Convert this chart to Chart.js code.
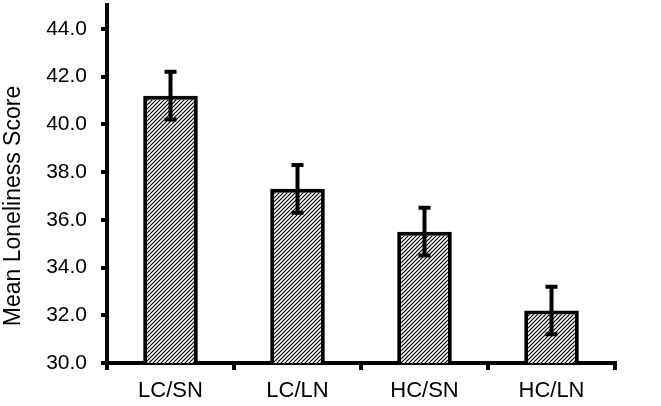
<!DOCTYPE html>
<html>
<head>
<meta charset="utf-8">
<script src="https://cdn.jsdelivr.net/npm/chart.js@4"></script>
<style>
  html, body { margin: 0; padding: 0; background: #fff; }
  #wrap { width: 661px; height: 406px; }
</style>
</head>
<body>
<div id="wrap"><canvas id="chart"></canvas></div>
<script>
// group labels, mean scores and +/- error
const groups = ["LC/SN", "LC/LN", "HC/SN", "HC/LN"];
const means = [41.2, 37.3, 35.5, 32.2];
const errors = [1.0, 1.0, 1.0, 1.0];
const yTicks = [30, 32, 34, 36, 38, 40, 42, 44];
const yTitle = "Mean Loneliness Score";

const family = "'Liberation Sans', Arial, sans-serif";

// diagonal hatch fill
function makeHatch() {
  const c = document.createElement("canvas");
  c.width = 4; c.height = 4;
  const g = c.getContext("2d");
  g.fillStyle = "#fff";
  g.fillRect(0, 0, 4, 4);
  g.strokeStyle = "#000";
  g.lineWidth = 1.2;
  g.beginPath();
  g.moveTo(0, 4); g.lineTo(4, 0);
  g.moveTo(-1, 1); g.lineTo(1, -1);
  g.moveTo(3, 5); g.lineTo(5, 3);
  g.stroke();
  return g.createPattern(c, "repeat");
}

// error bars drawn through the y scale
const errorBars = {
  id: "errorBars",
  afterDatasetsDraw(chart) {
    const ctx = chart.ctx;
    const y = chart.scales.y;
    const meta = chart.getDatasetMeta(0);
    ctx.save();
    ctx.strokeStyle = "#000";
    ctx.lineWidth = 4;
    meta.data.forEach((bar, i) => {
      const top = y.getPixelForValue(means[i] + errors[i]);
      const bot = y.getPixelForValue(means[i] - errors[i]);
      ctx.beginPath();
      ctx.moveTo(bar.x, top);
      ctx.lineTo(bar.x, bot);
      ctx.moveTo(bar.x - 6, top);
      ctx.lineTo(bar.x + 6, top);
      ctx.moveTo(bar.x - 6, bot);
      ctx.lineTo(bar.x + 6, bot);
      ctx.stroke();
    });
    ctx.restore();
  }
};

// y title sits a bit below the middle of the axis in the original
const sideTitle = {
  id: "sideTitle",
  afterDraw(chart) {
    const ctx = chart.ctx;
    const area = chart.chartArea;
    ctx.save();
    ctx.translate(14, (area.top + area.bottom) / 2 + 22);
    ctx.rotate(-Math.PI / 2);
    ctx.font = "23px " + family;
    ctx.fillStyle = "#000";
    ctx.textAlign = "center";
    ctx.textBaseline = "middle";
    ctx.fillText(yTitle, 0, 0);
    ctx.restore();
  }
};

new Chart(document.getElementById("chart"), {
  type: "bar",
  data: {
    labels: groups,
    datasets: [{
      data: means,
      backgroundColor: makeHatch(),
      borderColor: "#000",
      borderWidth: 4,
      borderSkipped: false,
      barPercentage: 0.43,
      categoryPercentage: 1
    }]
  },
  options: {
    responsive: true,
    maintainAspectRatio: false,
    animation: false,
    layout: { padding: { top: 5, right: 46, left: 0, bottom: 0 } },
    plugins: { legend: { display: false }, tooltip: { enabled: false } },
    scales: {
      x: {
        afterFit: axis => { axis.height = 43; },
        grid: { offset: true, drawOnChartArea: false, color: "#000", lineWidth: 4, tickLength: 7 },
        border: { color: "#000", width: 4 },
        ticks: { color: "#000", font: { family: family, size: 22 }, padding: 8 }
      },
      y: {
        min: 30,
        max: 45,
        afterBuildTicks: axis => { axis.ticks = yTicks.map(v => ({ value: v })); },
        afterFit: axis => { axis.width = 107; axis.paddingTop = 0; },
        grid: { drawOnChartArea: false, color: "#000", lineWidth: 4, tickLength: 6 },
        border: { color: "#000", width: 4 },
        ticks: { color: "#000", font: { family: family, size: 21 }, padding: 14, callback: v => v.toFixed(1) }
      }
    }
  },
  plugins: [errorBars, sideTitle]
});
</script>
</body>
</html>
